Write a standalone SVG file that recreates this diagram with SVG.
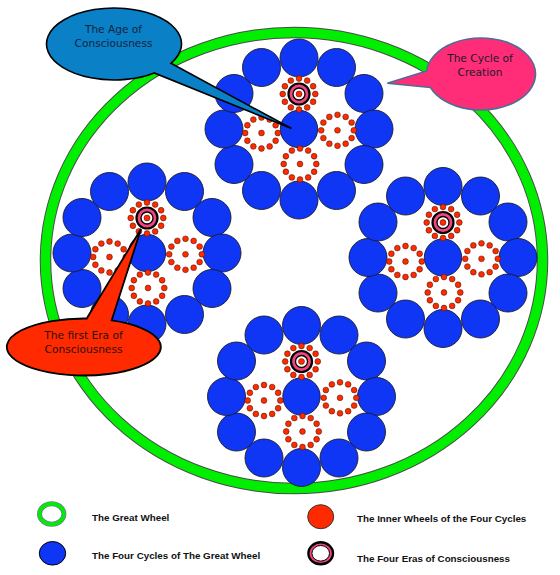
<svg xmlns="http://www.w3.org/2000/svg" xmlns:xlink="http://www.w3.org/1999/xlink" width="560" height="575" viewBox="0 0 560 575">
<style>
.blue{fill:#0f36f5;stroke:#1a1a2a;stroke-width:0.9}
.dot{fill:#ff2a00;stroke:#3a1000;stroke-width:0.5}
.pink{fill:#f0457e;stroke:#000;stroke-width:2.2}
.wht{fill:#fff;stroke:#000;stroke-width:1.3}
.ctext{font-family:"DejaVu Sans",sans-serif;font-size:10.6px;text-anchor:middle}
.leg{font-family:"Liberation Sans",Arial,sans-serif;font-size:9.8px;font-weight:bold;fill:#111}
</style>
<defs>
<g id="ring12">
<circle class="dot" cx="0" cy="-15.5" r="2.9"/>
<circle class="dot" cx="8.15" cy="-13.42" r="2.9"/>
<circle class="dot" cx="14.12" cy="-7.75" r="2.9"/>
<circle class="dot" cx="16.3" cy="0" r="2.9"/>
<circle class="dot" cx="14.12" cy="7.75" r="2.9"/>
<circle class="dot" cx="8.15" cy="13.42" r="2.9"/>
<circle class="dot" cx="0" cy="15.5" r="2.9"/>
<circle class="dot" cx="-8.15" cy="13.42" r="2.9"/>
<circle class="dot" cx="-14.12" cy="7.75" r="2.9"/>
<circle class="dot" cx="-16.3" cy="0" r="2.9"/>
<circle class="dot" cx="-14.12" cy="-7.75" r="2.9"/>
<circle class="dot" cx="-8.15" cy="-13.42" r="2.9"/>
</g>
<g id="inner">
<use xlink:href="#ring12" href="#ring12"/>
<circle class="dot" cx="0" cy="0" r="2.9"/>
</g>
<g id="era">
<use xlink:href="#ring12" href="#ring12"/>
<circle class="pink" cx="0" cy="0" r="10.5"/>
<circle class="wht" cx="0" cy="0" r="6"/>
<circle class="dot" cx="0" cy="0" r="3"/>
</g>
<g id="cycle">
<circle class="blue" cx="0" cy="-71" r="19"/>
<circle class="blue" cx="37.5" cy="-61.5" r="19"/>
<circle class="blue" cx="65" cy="-35.5" r="19"/>
<circle class="blue" cx="75" cy="0" r="19"/>
<circle class="blue" cx="65" cy="35.5" r="19"/>
<circle class="blue" cx="37.5" cy="61.5" r="19"/>
<circle class="blue" cx="0" cy="71" r="19"/>
<circle class="blue" cx="-37.5" cy="61.5" r="19"/>
<circle class="blue" cx="-65" cy="35.5" r="19"/>
<circle class="blue" cx="-75" cy="0" r="19"/>
<circle class="blue" cx="-65" cy="-35.5" r="19"/>
<circle class="blue" cx="-37.5" cy="-61.5" r="19"/>
<circle class="blue" cx="0" cy="0" r="18.7"/>
<use xlink:href="#inner" href="#inner" x="-37.5" y="4"/>
<use xlink:href="#inner" href="#inner" x="38.5" y="1.3"/>
<use xlink:href="#inner" href="#inner" x="1" y="35"/>
<use xlink:href="#era" href="#era" x="0" y="-35"/>
</g>
</defs>
<rect width="560" height="575" fill="#fff"/>

<g id="great-wheel">
<ellipse cx="294" cy="260.5" rx="248.5" ry="228" fill="none" stroke="#4a4a4a" stroke-width="11.5"/>
<ellipse cx="294" cy="260.5" rx="248.5" ry="228" fill="none" stroke="#00ee00" stroke-width="9.6"/>
</g>

<g id="cycle-top"><use xlink:href="#cycle" href="#cycle" x="299" y="129"/></g>
<g id="cycle-left"><use xlink:href="#cycle" href="#cycle" x="147" y="253"/></g>
<g id="cycle-right"><use xlink:href="#cycle" href="#cycle" x="443" y="257.5"/></g>
<g id="cycle-bottom"><use xlink:href="#cycle" href="#cycle" x="301.5" y="396.5"/></g>

<g id="connectors"></g>

<g id="callout-age">
<path d="M170.97,63.29 L291.5,128.5 L154.2,72.9 A67.5 36 0 1 1 170.97,63.29 Z" fill="#0a80c6" stroke="#000" stroke-width="1.6" stroke-linejoin="miter"/>
<text class="ctext" x="113.5" y="33" fill="#14233c">The Age of</text>
<text class="ctext" x="113.5" y="46.5" fill="#14233c">Consciousness</text>
</g>

<g id="callout-creation">
<path d="M426.7,70.9 L387.3,83.3 L430.5,87.5 A54.5 36 0 1 0 426.7,70.9 Z" fill="#ff2d78" stroke="#4d6d96" stroke-width="1.6"/>
<text class="ctext" x="480" y="62" fill="#1a1a2a">The Cycle of</text>
<text class="ctext" x="480" y="75.5" fill="#1a1a2a">Creation</text>
</g>

<g id="callout-era">
<path d="M86.7,318.5 L141,229 L111.6,320.4 A77 28.5 0 1 1 86.7,318.5 Z" fill="#ff2a00" stroke="#000" stroke-width="1.8"/>
<text class="ctext" x="83.5" y="339" fill="#2a1010">The first Era of</text>
<text class="ctext" x="83.5" y="353" fill="#2a1010">Consciousness</text>
</g>

<g id="legend">
<ellipse cx="51.7" cy="514" rx="12.2" ry="10.2" fill="#fff" stroke="#6f8098" stroke-width="5"/>
<ellipse cx="51.7" cy="514" rx="12.2" ry="10.2" fill="none" stroke="#00ee00" stroke-width="3.4"/>
<text class="leg" x="92" y="520.5">The Great Wheel</text>
<ellipse cx="52.5" cy="553.3" rx="13.2" ry="11.8" fill="#0f36f5" stroke="#000" stroke-width="1"/>
<text class="leg" x="92" y="559">The Four Cycles of The Great Wheel</text>
<ellipse cx="320.7" cy="516.7" rx="13" ry="12" fill="#ff2a00" stroke="#333" stroke-width="1"/>
<text class="leg" x="357" y="522">The Inner Wheels of the Four Cycles</text>
<ellipse cx="320.7" cy="553.3" rx="12.3" ry="11" fill="#f0457e" stroke="#000" stroke-width="2.4"/>
<ellipse cx="320.7" cy="553.3" rx="8.8" ry="7.8" fill="#fff" stroke="#000" stroke-width="1"/>
<text class="leg" x="357" y="561.5">The Four Eras of Consciousness</text>
</g>
</svg>
